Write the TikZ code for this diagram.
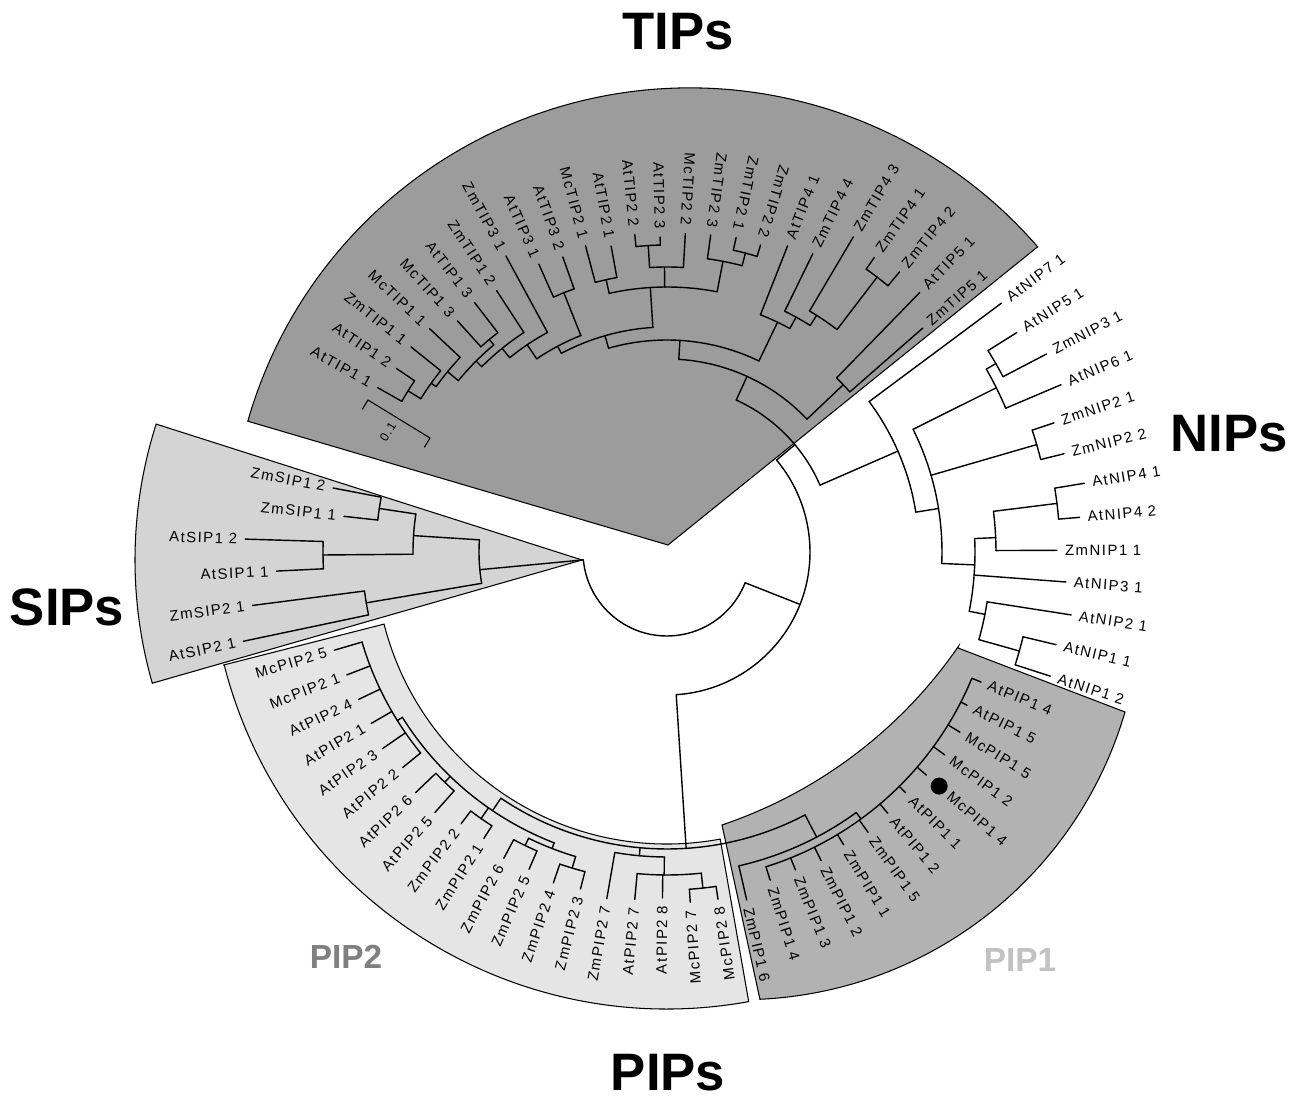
\documentclass[tikz,border=0pt]{standalone}
\usepackage{fontspec}
\setmainfont{Liberation Sans}
\newfontfamily\leaffont[LetterSpace=10]{Liberation Sans}
\usepackage{tikz}
\definecolor{tipfill}{gray}{0.61}
\definecolor{sipfill}{gray}{0.83}
\definecolor{pipafill}{gray}{0.70}
\definecolor{pipbfill}{gray}{0.90}
\definecolor{pipatext}{gray}{0.76}
\definecolor{pipbtext}{gray}{0.50}
\tikzstyle{branch} = [draw, line width=0.8pt, line cap=round]
\tikzstyle{region} = [draw, line width=0.6pt]
\tikzstyle{leaf} = [font=\leaffont\fontsize{8.5}{10}\selectfont, inner sep=1pt]
\tikzstyle{family} = [font=\bfseries\fontsize{30}{36}\selectfont, inner sep=0pt]
\tikzstyle{subfamily} = [font=\bfseries\fontsize{19}{23}\selectfont, inner sep=0pt]
\tikzstyle{marker} = [circle, fill=black, inner sep=0pt, minimum size=0.34cm]

\begin{document}
\begin{tikzpicture}[x=0.02cm, y=0.02cm]
  \path[use as bounding box, fill=white] (-667,-549) rectangle (632,552);

  % shaded clades
  \filldraw[region, fill=tipfill] (1,7) -- (-419.2,130.8)
    arc[start angle=164, end angle=40.9, radius=460] -- cycle;
  \filldraw[region, fill=sipfill] (-85,-8) -- ++(162.3:447)
    arc[start angle=162.3, end angle=196, radius=447] -- cycle;
  \filldraw[region, fill=pipbfill] (194.3:458) -- (194.3:292)
    arc[start angle=194.3, end angle=280.5, radius=292] -- (280.3:457)
    arc[start angle=280.3, end angle=194.3, radius=457] -- cycle;
  \filldraw[region, fill=pipafill] (291,-96) -- (458,-160)
    arc[start angle=-16.3, end angle=-87.3, radius=400] -- (55,-273)
    arc[start angle=-71.3, end angle=-34.5, radius=470] -- cycle;

  % inner nodes of the tree: arcs (radius/from/to)
  \foreach \r/\a/\b in {84/185.4/338.5, 143/-86.3/40, 167/23.6/65.5,
      188/176.3/189.6, 305/187.35/191.9, 254/171.4/180.5, 291/169.15/173.7, 344/178.25/182.8,
      193/43.5/86.5, 243/41.2/45.75, 212/64.3/106, 255/61.2/68.5, 268/57.7/63.95,
      280/52.6/59.4, 346/50.3/54.85, 225/93.6/118, 265/79.1/102.6, 279/100.35/104.9,
      285/86.7/93.5, 307/91.25/95.8, 296/75.3/82.15, 309/73.05/77.6, 233/111.7/124,
      279/109.45/114, 250/118.55/129, 262/123.1/135, 270/129.9/140.6, 277/127.65/132.2,
      284/136.75/144.4, 290/141.3/148.1, 305/145.85/150.4,
      252/9.1/36.65, 275/-2.4/26.5, 368/23/29.8, 379/27.55/32.1, 385/13.9/18.45,
      308/-11.1/2.5, 329/0.25/7.1, 393/4.8/9.35, 324/-15.7/-8.85, 366/-17.95/-13.4,
      297/236/297.7, 322/-77.1/-54, 330/-72.55/-22.5, 305/260.15/269.5, 323/264.7/276.1,
      338/273.8/278.35, 312/212/248.8, 318/244.2/253.3, 326/241.95/246.5, 330/251.05/255.6,
      325/232.85/237.4, 320/223.75/228.3, 318/196.45/219.2}
    \draw[branch] (\a:\r) arc[start angle=\a, end angle=\b, radius=\r];
  % inner branches (angle/from/to)
  \foreach \a/\p/\q in {338.5/84/143, 40/143/167, 23.6/167/252, -86.3/143/297, 185.4/84/188,
      189.6/188/305, 176.3/188/254, 171.4/254/291, 180.5/254/344,
      65.5/167/193, 43.5/193/243, 86.5/193/212, 64.3/212/255, 61.2/255/268, 57.7/268/280,
      52.6/280/346, 106/212/225, 93.6/225/265, 102.6/265/279, 90.5/265/285, 93.5/285/307,
      79.1/265/296, 75.3/296/309, 118/225/233, 111.7/233/279, 124/233/250, 129/250/262,
      135/262/270, 129.9/270/277, 140.6/270/284, 144.4/284/290, 148.1/290/305,
      9.1/252/275, 26.5/275/368, 29.8/368/379, 16.2/275/385, -2.4/275/308, 2.5/308/329,
      7.1/329/393, -11.1/308/324, -15.7/324/366,
      -62.3/297/322, -54/322/330, 264.8/297/305, 269.5/305/323, 276.1/323/338, 236/297/312,
      248.8/312/318, 244.2/318/326, 253.3/318/330, 235.1/312/325, 226/312/320, 212/312/318}
    \draw[branch] (\a:\p) -- (\a:\q);

  % leaves (name/angle/parent/tip/label)
  \foreach \n/\a/\p/\t/\txt in {
      AtTIP11/150.4/305/333/AtTIP1 1, AtTIP12/145.85/305/327/AtTIP1 2,
      ZmTIP11/141.3/290/328/ZmTIP1 1, McTIP11/136.75/284/326/McTIP1 1,
      McTIP13/132.2/277/312/McTIP1 3, AtTIP13/127.65/277/315/AtTIP1 3,
      ZmTIP12/123.1/262/312/ZmTIP1 2, ZmTIP31/118.55/250/337/ZmTIP3 1,
      AtTIP31/114/279/315/AtTIP3 1, AtTIP32/109.45/279/313/AtTIP3 2,
      McTIP21/104.9/279/317/McTIP2 1, AtTIP21/100.35/279/311/AtTIP2 1,
      AtTIP22/95.8/307/319/AtTIP2 2, AtTIP23/91.25/307/315/AtTIP2 3,
      McTIP22/86.7/285/319/McTIP2 2, ZmTIP23/82.15/296/320/ZmTIP2 3,
      ZmTIP21/77.6/309/322/ZmTIP2 1, ZmTIP22/73.05/309/321/ZmTIP2 2,
      AtTIP41/68.5/255/329/AtTIP4 1, ZmTIP44/63.95/268/332/ZmTIP4 4,
      ZmTIP43/59.4/280/366/ZmTIP4 3, ZmTIP41/54.85/346/360/ZmTIP4 1,
      ZmTIP42/50.3/346/364/ZmTIP4 2, AtTIP51/45.75/243/362/AtTIP5 1,
      ZmTIP51/41.2/243/340/ZmTIP5 1,
      AtNIP71/36.65/252/417/AtNIP7 1, AtNIP51/32.1/379/413/AtNIP5 1,
      ZmNIP31/27.55/379/428/ZmNIP3 1, AtNIP61/23/368/428/AtNIP6 1,
      ZmNIP21/18.45/385/408/ZmNIP2 1, ZmNIP22/13.9/385/409/ZmNIP2 2,
      AtNIP41/9.35/393/423/AtNIP4 1, AtNIP42/4.8/393/414/AtNIP4 2,
      ZmNIP11/0.25/329/390/ZmNIP1 1, AtNIP31/-4.3/308/400/AtNIP3 1,
      AtNIP21/-8.85/324/409/AtNIP2 1, AtNIP11/-13.4/366/400/AtNIP1 1,
      AtNIP12/-17.95/366/403/AtNIP1 2,
      AtPIP14/-22.5/330/340/AtPIP1 4, AtPIP15/-27.05/330/337/AtPIP1 5,
      McPIP15/-31.6/330/344/McPIP1 5, McPIP12/-36.15/330/344/McPIP1 2,
      AtPIP11/-45.25/330/339/AtPIP1 1, AtPIP12/-49.8/330/342/AtPIP1 2,
      ZmPIP15/-54.35/330/345/ZmPIP1 5, ZmPIP11/-58.9/330/342/ZmPIP1 1,
      ZmPIP12/-63.45/330/345/ZmPIP1 2, ZmPIP13/-68/330/343/ZmPIP1 3,
      ZmPIP14/-72.55/330/344/ZmPIP1 4, ZmPIP16/-77.1/322/357/ZmPIP1 6,
      McPIP28/278.35/338/351/McPIP2 8, McPIP27/273.8/338/351/McPIP2 7,
      AtPIP28/269.25/323/346/AtPIP2 8, AtPIP27/264.7/323/349/AtPIP2 7,
      ZmPIP27/260.15/305/352/ZmPIP2 7, ZmPIP23/255.6/330/348/ZmPIP2 3,
      ZmPIP24/251.05/330/350/ZmPIP2 4, ZmPIP25/246.5/326/346/ZmPIP2 5,
      ZmPIP26/241.95/326/347/ZmPIP2 6, ZmPIP21/237.4/325/340/ZmPIP2 1,
      ZmPIP22/232.85/325/341/ZmPIP2 2, AtPIP25/228.3/320/349/AtPIP2 5,
      AtPIP26/223.75/320/348/AtPIP2 6, AtPIP22/219.2/318/341/AtPIP2 2,
      AtPIP23/214.65/318/346/AtPIP2 3, AtPIP21/210.1/318/342/AtPIP2 1,
      AtPIP24/205.55/318/342/AtPIP2 4, McPIP21/201/318/343/McPIP2 1,
      McPIP25/196.45/318/347/McPIP2 5,
      AtSIP21/191.9/305/433/AtSIP2 1, ZmSIP21/187.35/305/418/ZmSIP2 1,
      AtSIP11/182.8/344/391/AtSIP1 1, AtSIP12/178.25/344/422/AtSIP1 2,
      ZmSIP11/173.7/291/325/ZmSIP1 1, ZmSIP12/169.15/291/340/ZmSIP1 2}{
    \draw[branch] (\a:\p) -- (\a:\t);
    \ifdim\a pt>70pt
      \node[leaf, anchor=east, rotate=\a+180] (\n) at (\a:{\t+6}) {\txt};
    \else
      \node[leaf, anchor=west, rotate=\a] (\n) at (\a:{\t+6}) {\txt};
    \fi
  }
  % the marked leaf
  \draw[branch] (-40.7:330) -- (-40.7:342);
  \node[marker] (mark) at (-40.7:359) {};
  \node[leaf, anchor=west, rotate=-40.7] (McPIP14) at (-40.7:370) {McPIP1 4};

  % scale bar
  \coordinate (barL) at (-299,152);
  \coordinate (barR) at (-237,114);
  \draw[line width=0.6pt] (-304.7,142.6) -- (barL) -- (barR) -- (-242.7,104.6);
  \node[leaf, font=\leaffont\fontsize{7}{8}\selectfont, rotate=58.5] (scale) at (-279,120) {0.1};

  % family names
  \node[family] (TIPs) at (11,520) {TIPs};
  \node[family] (NIPs) at (562,118) {NIPs};
  \node[family] (SIPs) at (-600,-55) {SIPs};
  \node[family] (PIPs) at (1,-521) {PIPs};
  \node[subfamily, text=pipbtext] (PIP2) at (-321,-405) {PIP2};
  \node[subfamily, text=pipatext] (PIP1) at (353,-408) {PIP1};
\end{tikzpicture}
\end{document}
